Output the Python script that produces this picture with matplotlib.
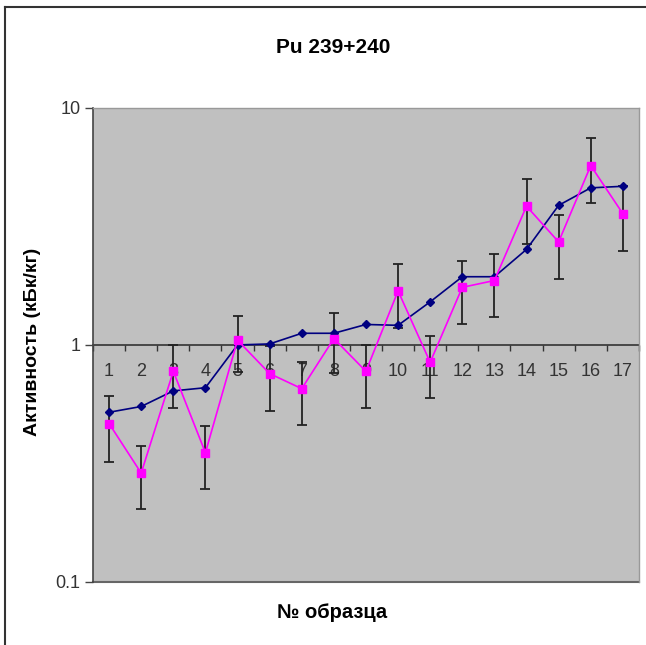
"""
Pu 239+240 activity by sample, log scale, with error bars.
"""

import numpy as np
import matplotlib
matplotlib.use('Agg')
import matplotlib.pyplot as plt
from matplotlib.lines import Line2D
from matplotlib.ticker import FixedLocator, NullFormatter, NullLocator

plt.rcParams['font.family'] = ['Liberation Sans', 'DejaVu Sans']

# Data
samples = list(range(1, 18))
calc_values = [0.52, 0.55, 0.64, 0.66, 1.0, 1.01, 1.12, 1.12, 1.22, 1.21,
               1.52, 1.94, 1.94, 2.53, 3.88, 4.6, 4.67]
meas_values = [0.466, 0.288, 0.774, 0.351, 1.047, 0.757, 0.654, 1.064, 0.774, 1.69,
               0.845, 1.75, 1.87, 3.85, 2.72, 5.71, 3.58]
meas_errors = [0.144, 0.085, 0.23, 0.105, 0.28, 0.23, 0.196, 0.30, 0.23, 0.51,
               0.25, 0.52, 0.56, 1.18, 0.83, 1.74, 1.1]
y_ticks = [0.1, 1, 10]
y_tick_labels = ['0.1', '1', '10']

fig = plt.figure(figsize=(6.46, 6.45), dpi=100)
ax = fig.add_axes([0.144, 0.0977, 0.845, 0.735])
ax.set_facecolor('#c0c0c0')

ax.errorbar(samples, meas_values, yerr=meas_errors, fmt='none',
            ecolor='#222222', elinewidth=1.3, capsize=3.5, capthick=1.3, zorder=2)
ax.plot(samples, calc_values, color='#000080', marker='D', markersize=4.5,
        linewidth=1.2, zorder=3)
ax.plot(samples, meas_values, color='#ff00ff', marker='s', markersize=5.5,
        linewidth=1.2, zorder=4)

ax.set_yscale('log')
ax.set_ylim(0.1, 10)
ax.set_xlim(0.5, 17.5)

# y axis
ax.yaxis.set_major_locator(FixedLocator(y_ticks))
ax.set_yticklabels(y_tick_labels)
ax.yaxis.set_minor_locator(NullLocator())
ax.yaxis.set_minor_formatter(NullFormatter())
ax.tick_params(axis='y', which='major', direction='out', length=6, width=1,
               color='#444444', labelsize=13, labelcolor='#333333', pad=3)

# x axis crosses at y = 1
ax.spines['bottom'].set_position(('data', 1))
ax.spines['bottom'].set_color('#333333')
ax.spines['bottom'].set_linewidth(1.2)
ax.spines['bottom'].set_zorder(1)
ax.set_xticks(samples)
ax.set_xticklabels([str(s) for s in samples])
ax.set_xticks(np.arange(0.5, 18, 1), minor=True)
ax.tick_params(axis='x', which='major', length=0, labelsize=13,
               labelcolor='#333333', pad=13)
ax.tick_params(axis='x', which='minor', direction='out', length=4, width=1,
               color='#333333')

ax.spines['left'].set_color('#444444')
ax.spines['left'].set_linewidth(1.2)
for side in ['top', 'right']:
    ax.spines[side].set_color('#999999')
    ax.spines[side].set_linewidth(1)

# bottom frame line of plot area at 0.1
ax.axhline(0.1, color='#666666', linewidth=1.5, zorder=1, clip_on=False)

fig.text(0.515, 0.926, 'Pu 239+240', ha='center', va='center',
         fontsize=15, fontweight='bold')
fig.text(0.051, 0.47, 'Активность (кБк/кг)', ha='center', va='center',
         rotation=90, fontsize=14, fontweight='bold')
fig.text(0.514, 0.05, '№ образца', ha='center', va='center',
         fontsize=14.5, fontweight='bold')

# outer chart border
fig.add_artist(Line2D([0.008, 0.008], [0.0, 0.989], transform=fig.transFigure,
                      color='#333333', linewidth=1.5))
fig.add_artist(Line2D([0.008, 1.0], [0.989, 0.989], transform=fig.transFigure,
                      color='#333333', linewidth=1.5))

fig.savefig('out.png', dpi=100)
